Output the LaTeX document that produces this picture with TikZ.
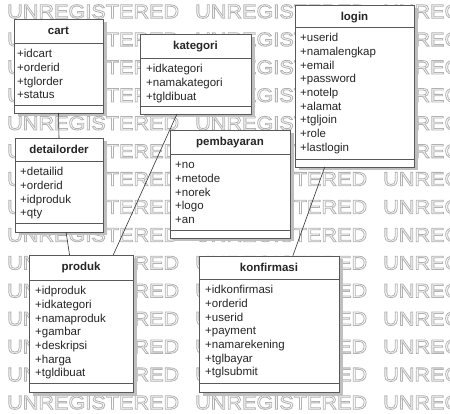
\documentclass[tikz,border=0pt]{standalone}
\usepackage{fontspec}
\setmainfont{Liberation Sans}
\newfontfamily\wmfont[FakeStretch=1.11]{Liberation Sans}
\usetikzlibrary{shadows,calc}
\newcommand\hollowtext[1]{\special{pdf:literal direct q 1 Tr 0.8 w}#1\special{pdf:literal direct Q}}
\newcommand\umlclass[8]{%
  \node[classbox, minimum width={#5-#3}, minimum height={#6-#4}] (#1) at (#3,#4) {};
  \node[titletext] (#1-title) at ({(#3+#5)/2},{#4+16}) {#2};
  \draw[classline] (#3,#7) -- (#5,#7);
  \draw[classline] (#3,#8) -- (#5,#8);
}
\newcommand\fl{\rule{0pt}{9pt}}
\begin{document}
\begin{tikzpicture}[x=1pt,y=-1pt,
  classbox/.style={draw=black!65, line width=0.7pt, fill=white, rectangle, inner sep=0pt, outer sep=0pt, anchor=north west,
    drop shadow={shadow xshift=3.5pt, shadow yshift=-3.5pt, fill=black!25, opacity=1}},
  classline/.style={draw=black!65, line width=0.7pt},
  titletext/.style={font=\bfseries\fontsize{11.5}{13.7}\selectfont, anchor=base, inner sep=0pt, text=black!85},
  attrs/.style={font=\fontsize{11.5}{13.7}\selectfont, align=left, anchor=north west, inner sep=0pt, text=black!85},
  conn/.style={draw=black!80, line width=0.6pt},
  wm/.style={font=\wmfont\fontsize{19.5}{20}\selectfont, text=black!30, anchor=west, inner sep=0pt}
]
\useasboundingbox (0,0) rectangle (450,414);
\fill[white] (0,0) rectangle (450,414);
% watermark
\foreach \i in {0,...,14} {
  \foreach \x in {7,195,383} {
    \node[wm] (wm-\i-\x) at (\x,{11.5+27.93*\i}) {\hollowtext{UNREGISTERED}};
  }
}
% classes
\umlclass{cart}{cart}{14}{19}{103}{113}{43}{105}
\node[attrs] (cart-attrs) at (17,48.5) {\fl+idcart\\+orderid\\+tglorder\\+status};
\umlclass{kategori}{kategori}{140}{34}{251}{114}{58}{106}
\node[attrs] (kategori-attrs) at (146,63.5) {\fl+idkategori\\+namakategori\\+tgldibuat};
\umlclass{login}{login}{295}{5}{414}{167}{27}{159}
\node[attrs] (login-attrs) at (300,32.5) {\fl+userid\\+namalengkap\\+email\\+password\\+notelp\\+alamat\\+tgljoin\\+role\\+lastlogin};
\umlclass{detailorder}{detailorder}{15}{138}{103}{232}{161}{223}
\node[attrs] (detailorder-attrs) at (20,166.5) {\fl+detailid\\+orderid\\+idproduk\\+qty};
\umlclass{pembayaran}{pembayaran}{170}{130}{290}{238}{154}{230}
\node[attrs] (pembayaran-attrs) at (175,159.5) {\fl+no\\+metode\\+norek\\+logo\\+an};
\umlclass{produk}{produk}{29}{255}{133}{392}{280}{383}
\node[attrs] (produk-attrs) at (35,285.5) {\fl+idproduk\\+idkategori\\+namaproduk\\+gambar\\+deskripsi\\+harga\\+tgldibuat};
\umlclass{konfirmasi}{konfirmasi}{199}{256}{339}{392}{279}{383}
\node[attrs] (konfirmasi-attrs) at (205,284.5) {\fl+idkonfirmasi\\+orderid\\+userid\\+payment\\+namarekening\\+tglbayar\\+tglsubmit};
% connectors
\draw[conn] (cart.south) -- (detailorder.north);
\draw[conn] ($(detailorder.south west)!0.58!(detailorder.south east)$) -- ($(produk.north west)!0.39!(produk.north east)$);
\draw[conn] ($(kategori.south west)!0.333!(kategori.south east)$) -- ($(produk.north west)!0.81!(produk.north east)$);
\draw[conn] ($(login.south west)!0.25!(login.south east)$) -- ($(konfirmasi.north west)!0.67!(konfirmasi.north east)$);
\end{tikzpicture}
\end{document}
